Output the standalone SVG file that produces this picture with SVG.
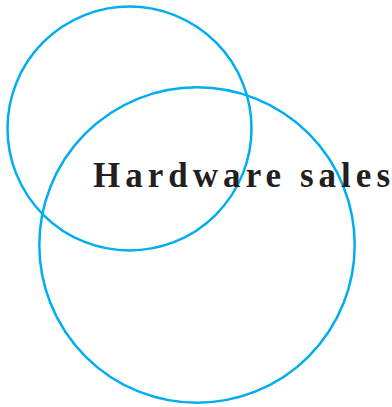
<svg xmlns="http://www.w3.org/2000/svg" width="392" height="407" viewBox="0 0 392 407">
<style>
.ring{fill:none;stroke:#00AEEF;stroke-width:2.5}
.lbl{font-family:"Liberation Serif","DejaVu Serif",serif;font-weight:bold;font-size:35px;fill:#231F20}
</style>
<rect width="392" height="407" fill="#fff"/>
<g id="circle-small"><circle class="ring" cx="129.5" cy="128.5" r="122"/></g>
<g id="circle-large"><circle class="ring" cx="197" cy="245" r="157.7"/></g>
<g id="label"><text class="lbl" x="93" y="187" textLength="297" lengthAdjust="spacing">Hardware sales</text></g>
</svg>
